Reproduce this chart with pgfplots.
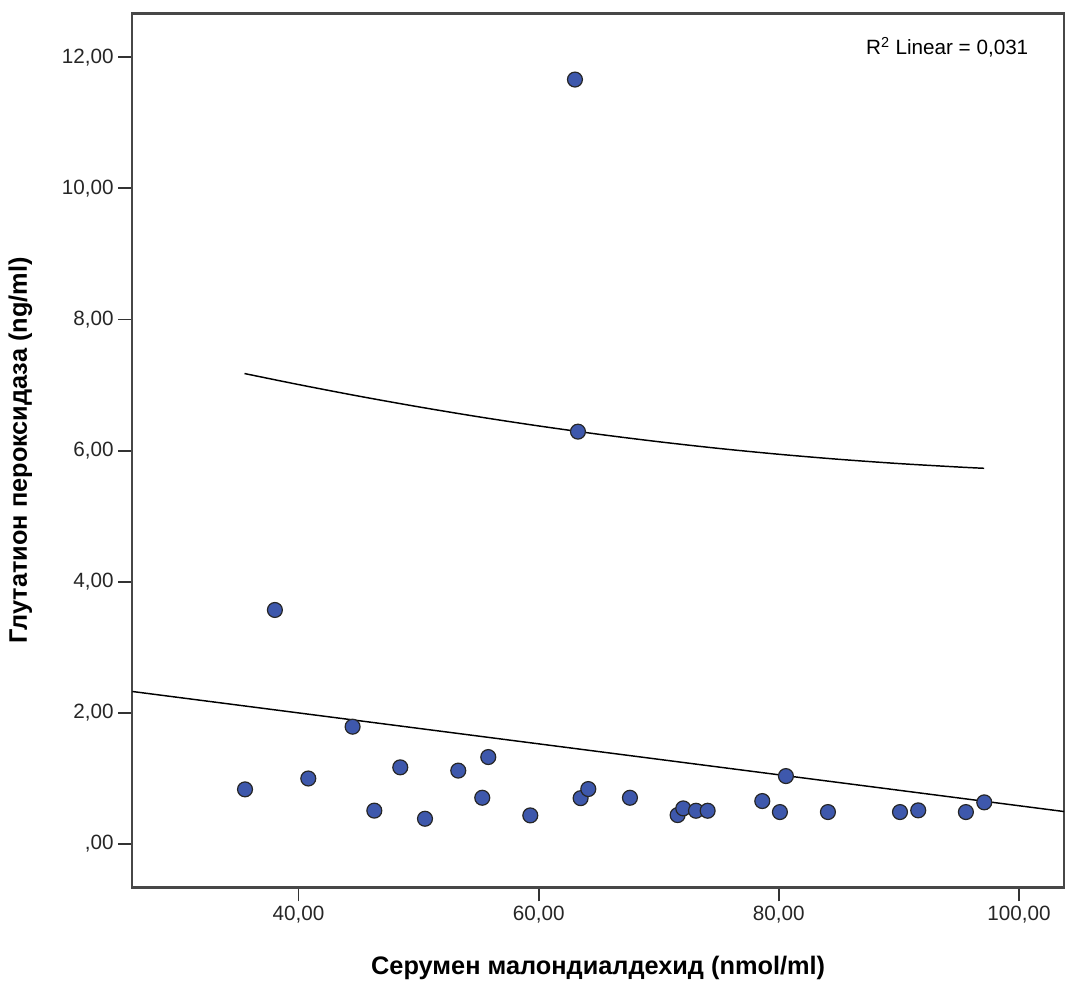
\documentclass[border=0pt]{standalone}
\usepackage{fontspec}
\setmainfont{Liberation Sans}
\usepackage{pgfplots}
\pgfplotsset{compat=1.18}
\definecolor{ptblue}{RGB}{62,88,172}
\begin{document}
\begin{tikzpicture}
\path[use as bounding box] (0,0) rectangle (800.25pt,741pt);
\begin{axis}[
  at={(99.2pt,75.5pt)}, anchor=south west,
  scale only axis, width=698.8pt, height=655.5pt,
  xmin=26.15, xmax=103.75, ymin=-0.66, ymax=12.67,
  axis line style={black!72, line width=1.8pt},
  tick style={black!80, line width=1.4pt},
  tick align=outside, major tick length=10.5pt,
  xtick pos=lower, ytick pos=left,
  xtick={40,60,80,100},
  xticklabels={{40,00},{60,00},{80,00},{100,00}},
  ytick={0,2,4,6,8,10,12},
  yticklabels={{,00},{2,00},{4,00},{6,00},{8,00},{10,00},{12,00}},
  ticklabel style={font=\fontsize{15.5}{18}\selectfont, text=black!85},
  xlabel={Серумен малондиалдехид (nmol/ml)},
  ylabel={Глутатион пероксидаза (ng/ml)},
  xlabel style={at={(axis description cs:0.5,-0.0927)}, anchor=center, font=\bfseries\fontsize{19}{22}\selectfont},
  ylabel style={at={(axis description cs:-0.1202,0.5)}, anchor=center, font=\bfseries\fontsize{19}{22}\selectfont},
]
\addplot[black, line width=1.1pt] coordinates {(26.15,2.327) (103.75,0.496)};
\addplot[black, line width=1.1pt, smooth] coordinates {
(35.5,7.176) (40,7.008) (45,6.832) (50,6.668) (55,6.516) (60,6.377) (65,6.250)
(70,6.136) (75,6.034) (80,5.945) (85,5.868) (90,5.803) (95,5.750) (97.1,5.731)};
\addplot[only marks, mark=*, mark size=5.6pt, mark options={fill=ptblue, draw=black!85, line width=0.9pt}] coordinates {
(38.03,3.57) (35.54,0.834) (40.81,1.00) (44.5,1.79) (46.31,0.51) (48.47,1.17)
(50.53,0.386) (53.30,1.12) (55.30,0.706) (55.80,1.327) (59.30,0.437) (63.49,0.70)
(64.13,0.839) (67.60,0.706) (71.57,0.442) (72.04,0.544) (73.10,0.508) (74.07,0.508)
(78.62,0.656) (80.09,0.488) (80.59,1.037) (84.09,0.488) (90.09,0.488) (91.61,0.514)
(95.58,0.488) (97.11,0.636) (63.02,11.66) (63.27,6.29)};
\node[anchor=east, font=\fontsize{15.5}{18}\selectfont] at (axis description cs:0.9667,0.9614) {R\textsuperscript{2} Linear = 0,031};
\end{axis}
\end{tikzpicture}
\end{document}
